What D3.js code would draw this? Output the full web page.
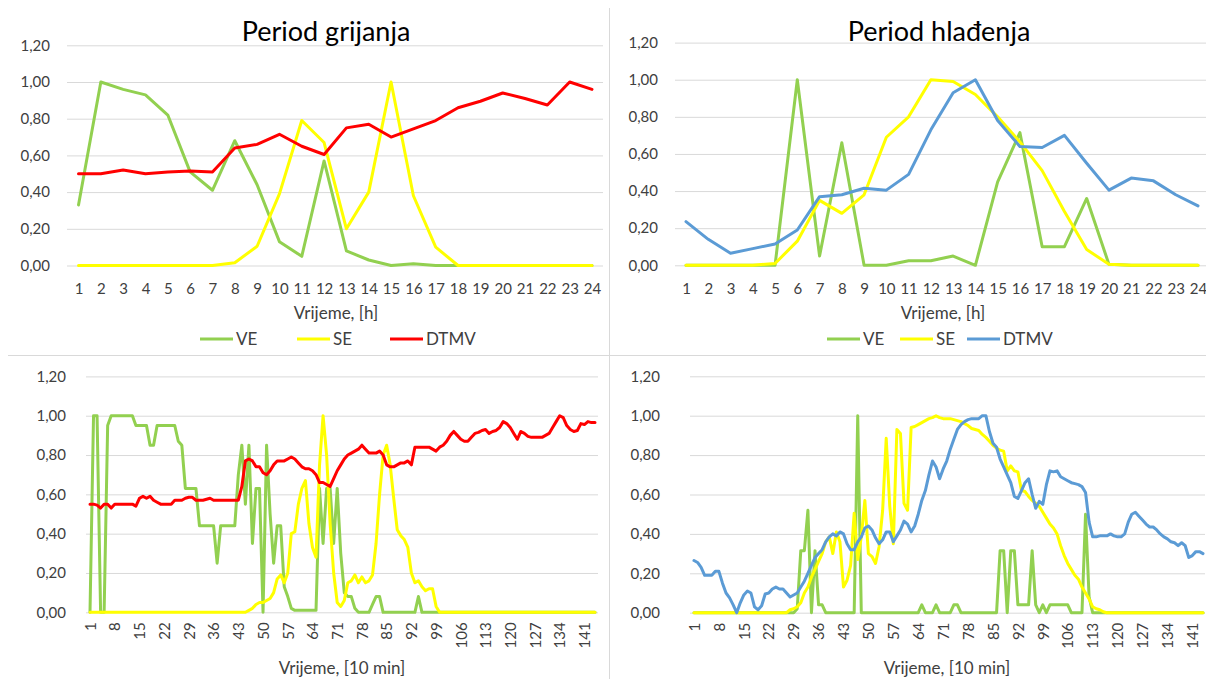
<!DOCTYPE html>
<html lang="hr">
<head>
<meta charset="UTF-8">
<title>Period grijanja / Period hlađenja</title>
<script src="https://cdn.jsdelivr.net/npm/d3@7"></script>
<style>
    body { margin: 0; background: #fff; }
</style>
</head>
<body>
<svg id="chart" width="1206" height="679"></svg>
<script>
// ---- data ----
var hours = [1,2,3,4,5,6,7,8,9,10,11,12,13,14,15,16,17,18,19,20,21,22,23,24];
var yTicks = [0, 0.2, 0.4, 0.6, 0.8, 1.0, 1.2];
var tenMinTicks = [1,8,15,22,29,36,43,50,57,64,71,78,85,92,99,106,113,120,127,134,141];
var seriesNames = ["VE", "SE", "DTMV"];

// Period grijanja, hourly
var heatVE   = [0.33,1.00,0.96,0.93,0.82,0.51,0.41,0.68,0.44,0.13,0.05,0.57,0.08,0.03,0.00,0.01,0.00,0,0,0,0,0,0,0];
var heatSE   = [0,0,0,0,0,0,0,0.015,0.105,0.39,0.79,0.67,0.20,0.40,1.00,0.38,0.10,0,0,0,0,0,0,0];
var heatDTMV = [0.50,0.50,0.52,0.50,0.51,0.515,0.51,0.64,0.66,0.715,0.65,0.605,0.75,0.77,0.70,0.745,0.79,0.86,0.895,0.94,0.91,0.875,1.00,0.96];

// Period hlađenja, hourly
var coolVE   = [0,0,0,0,0,1.00,0.05,0.66,0,0,0.025,0.025,0.05,0,0.45,0.715,0.10,0.10,0.36,0.005,0,0,0,0];
var coolSE   = [0,0,0,0,0.01,0.13,0.35,0.28,0.38,0.69,0.80,1.00,0.99,0.92,0.80,0.665,0.51,0.29,0.085,0.005,0,0,0,0];
var coolDTMV = [0.235,0.14,0.065,0.09,0.115,0.19,0.37,0.38,0.415,0.405,0.49,0.73,0.93,1.00,0.78,0.64,0.635,0.70,0.55,0.405,0.47,0.455,0.38,0.32];

// Period grijanja, 10 min
var heat10VE = [
    0,1,1,0,0,0.95,1,1,1,1,
    1,1,1,0.95,0.95,0.95,0.95,0.85,0.85,0.95,
    0.95,0.95,0.95,0.95,0.95,0.87,0.85,0.63,0.63,0.63,
    0.63,0.44,0.44,0.44,0.44,0.44,0.25,0.44,0.44,0.44,
    0.44,0.44,0.70,0.85,0.55,0.85,0.35,0.63,0.63,0,
    0.85,0.5,0.25,0.44,0.44,0.13,0.08,0.02,0.01,0.01,
    0.01,0.01,0.01,0.01,0.01,0.63,0.35,0.63,0.63,0.35,
    0.63,0.3,0.1,0.08,0.08,0.02,0,0,0,0,
    0.04,0.08,0.08,0,0,0,0,0,0,0,
    0,0,0,0.08,0,0,0,0,0,0,
    0,0,0,0,0,0,0,0,0,0,
    0,0,0,0,0,0,0,0,0,0,
    0,0,0,0,0,0,0,0,0,0,
    0,0,0,0,0,0,0,0,0,0,
    0,0,0,0
];
var heat10SE = [
    0,0,0,0,0,0,0,0,0,0,
    0,0,0,0,0,0,0,0,0,0,
    0,0,0,0,0,0,0,0,0,0,
    0,0,0,0,0,0,0,0,0,0,
    0,0,0,0,0,0.01,0.02,0.04,0.05,0.05,
    0.06,0.07,0.1,0.17,0.19,0.15,0.2,0.4,0.41,0.55,
    0.63,0.67,0.45,0.33,0.28,0.75,1.0,0.8,0.45,0.2,
    0.05,0.03,0.06,0.15,0.16,0.19,0.15,0.18,0.15,0.16,
    0.19,0.35,0.6,0.8,0.85,0.75,0.58,0.42,0.39,0.37,
    0.33,0.2,0.15,0.16,0.13,0.11,0.12,0.12,0.03,0,
    0,0,0,0,0,0,0,0,0,0,
    0,0,0,0,0,0,0,0,0,0,
    0,0,0,0,0,0,0,0,0,0,
    0,0,0,0,0,0,0,0,0,0,
    0,0,0,0
];
var heat10DTMV = [
    0.55,0.55,0.545,0.53,0.55,0.55,0.53,0.55,0.55,0.55,
    0.55,0.55,0.55,0.54,0.58,0.59,0.58,0.59,0.57,0.56,
    0.55,0.55,0.55,0.55,0.57,0.57,0.57,0.58,0.585,0.585,
    0.57,0.57,0.57,0.575,0.58,0.57,0.57,0.57,0.57,0.57,
    0.57,0.57,0.57,0.64,0.77,0.78,0.77,0.74,0.74,0.71,
    0.70,0.72,0.75,0.77,0.77,0.77,0.78,0.79,0.78,0.76,
    0.74,0.73,0.73,0.72,0.70,0.66,0.66,0.65,0.64,0.68,
    0.72,0.75,0.78,0.80,0.81,0.82,0.83,0.85,0.83,0.81,
    0.81,0.81,0.82,0.80,0.75,0.74,0.74,0.75,0.76,0.76,
    0.77,0.75,0.84,0.84,0.84,0.84,0.84,0.83,0.82,0.84,
    0.85,0.87,0.90,0.92,0.90,0.88,0.87,0.87,0.89,0.91,
    0.915,0.925,0.93,0.91,0.92,0.925,0.94,0.97,0.96,0.94,
    0.91,0.88,0.92,0.91,0.895,0.89,0.89,0.89,0.89,0.90,
    0.91,0.94,0.97,1.0,0.99,0.95,0.93,0.92,0.925,0.96,
    0.955,0.97,0.965,0.965
];

// Period hlađenja, 10 min
var cool10VE = [
    0,0,0,0,0,0,0,0,0,0,
    0,0,0,0,0,0,0,0,0,0,
    0,0,0,0,0,0,0,0,0,0.02,
    0.315,0.315,0.52,0,0.315,0.04,0.04,0,0,0,
    0,0,0,0,0,0,1.0,0,0,0,
    0,0,0,0,0,0,0,0,0,0,
    0,0,0,0,0.04,0,0,0,0.04,0,
    0,0,0,0.04,0.04,0,0,0,0,0,
    0,0,0,0,0,0,0.315,0.315,0,0.315,
    0.315,0.04,0.04,0.04,0.04,0.315,0.04,0,0.04,0,
    0.04,0.04,0.04,0.04,0.04,0.04,0,0,0,0,
    0.5,0.08,0,0,0,0,0,0,0,0,
    0,0,0,0,0,0,0,0,0,0,
    0,0,0,0,0,0,0,0,0,0,
    0,0,0,0
];
var cool10SE = [
    0,0,0,0,0,0,0,0,0,0,
    0,0,0,0,0,0,0,0,0,0,
    0,0,0,0,0,0,0,0.015,0.02,0.03,
    0.05,0.10,0.13,0.18,0.22,0.26,0.30,0.36,0.385,0.30,
    0.41,0.36,0.13,0.165,0.24,0.505,0.27,0.385,0.57,0.30,
    0.285,0.25,0.335,0.52,0.885,0.54,0.35,0.93,0.91,0.555,
    0.52,0.94,0.945,0.955,0.965,0.975,0.985,0.99,1.0,0.99,
    0.985,0.985,0.985,0.98,0.975,0.97,0.96,0.95,0.935,0.93,
    0.925,0.905,0.89,0.87,0.85,0.835,0.825,0.82,0.72,0.745,
    0.72,0.715,0.62,0.615,0.59,0.57,0.555,0.54,0.51,0.48,
    0.45,0.43,0.40,0.34,0.29,0.25,0.22,0.19,0.17,0.13,
    0.10,0.07,0.03,0.02,0.015,0.005,0,0,0,0,
    0,0,0,0,0,0,0,0,0,0,
    0,0,0,0,0,0,0,0,0,0,
    0,0,0,0
];
var cool10DTMV = [
    0.265,0.255,0.23,0.19,0.19,0.19,0.21,0.21,0.15,0.10,
    0.075,0.04,0.0,0.05,0.09,0.11,0.10,0.03,0.015,0.035,
    0.095,0.10,0.12,0.13,0.12,0.12,0.10,0.08,0.09,0.10,
    0.13,0.16,0.20,0.24,0.28,0.30,0.32,0.36,0.385,0.40,
    0.39,0.41,0.40,0.35,0.32,0.32,0.36,0.385,0.43,0.44,
    0.42,0.38,0.35,0.37,0.41,0.41,0.36,0.39,0.42,0.465,
    0.45,0.41,0.44,0.50,0.57,0.62,0.70,0.77,0.74,0.68,
    0.73,0.77,0.83,0.88,0.93,0.955,0.97,0.98,0.985,0.985,
    0.985,1.0,1.0,0.92,0.86,0.84,0.78,0.74,0.70,0.66,
    0.59,0.58,0.62,0.66,0.68,0.60,0.53,0.565,0.55,0.65,
    0.72,0.715,0.72,0.69,0.68,0.67,0.66,0.655,0.65,0.64,
    0.61,0.46,0.385,0.385,0.39,0.39,0.39,0.40,0.39,0.385,
    0.385,0.40,0.46,0.50,0.51,0.49,0.47,0.45,0.435,0.435,
    0.42,0.40,0.385,0.375,0.36,0.355,0.34,0.355,0.34,0.28,
    0.29,0.31,0.31,0.30
];

var tenMin = d3.range(1, heat10DTMV.length + 1);

var colors = { VE: "#92d050", SE: "#ffff00", DTMV_heat: "#ff0000", DTMV_cool: "#5b9bd5" };
var fontFam = "Lato, 'Open Sans', sans-serif";
var textColor = "#404040";

var svg = d3.select("#chart");
var fmt = function(d) { return d3.format(".2f")(d).replace(".", ","); };

// panel separators
svg.append("line").attr("x1", 609.5).attr("x2", 609.5).attr("y1", 8).attr("y2", 679)
    .attr("stroke", "#d9d9d9");
svg.append("line").attr("x1", 8).attr("x2", 1206).attr("y1", 355.5).attr("y2", 355.5)
    .attr("stroke", "#d9d9d9");

function drawPanel(o) {
    var g = svg.append("g");
    var x = d3.scalePoint().domain(o.cats).range(o.xRange);
    var y = d3.scaleLinear().domain([0, 1.2]).range([o.y0, o.y12]);

    // gridlines + y labels
    g.append("g")
        .attr("transform", "translate(" + o.grid[0] + ",0)")
        .call(d3.axisLeft(y).tickValues(yTicks).tickFormat(fmt)
            .tickSize(-(o.grid[1] - o.grid[0])).tickPadding(o.yPad))
        .call(function(s) {
            s.select(".domain").remove();
            s.selectAll("line").attr("stroke", "#d9d9d9");
            s.attr("font-family", fontFam).attr("font-size", 15);
            s.selectAll("text").attr("fill", textColor);
        });

    // x labels
    var xa = g.append("g")
        .attr("transform", "translate(0," + o.y0 + ")")
        .call(d3.axisBottom(x).tickValues(o.ticks).tickSize(0).tickPadding(o.xPad))
        .call(function(s) {
            s.select(".domain").remove();
            s.attr("font-family", fontFam).attr("font-size", 15);
            s.selectAll("text").attr("fill", textColor);
        });
    if (o.rotate) {
        xa.selectAll("text")
            .attr("transform", "rotate(-90)")
            .attr("x", -o.xPad).attr("y", 0).attr("dy", "0.35em")
            .style("text-anchor", "end");
    }

    // series
    var line = d3.line()
        .x(function(d, i) { return x(o.cats[i]); })
        .y(function(d) { return y(d); });
    o.series.forEach(function(s) {
        g.append("path").datum(s.values)
            .attr("fill", "none").attr("stroke", s.color)
            .attr("stroke-width", 3).attr("stroke-linejoin", "round")
            .attr("stroke-linecap", "round")
            .attr("d", line);
    });

    // axis title
    g.append("text").attr("x", o.xTitle[0]).attr("y", o.xTitle[1])
        .attr("text-anchor", "middle").attr("font-family", fontFam)
        .attr("font-size", 17).attr("fill", textColor).text(o.xLabel);

    if (o.title) {
        g.append("text").attr("x", o.title[0]).attr("y", o.title[1])
            .attr("text-anchor", "middle").attr("font-family", fontFam)
            .attr("font-size", 27).attr("fill", "#000").text(o.title[2]);
    }

    if (o.legend) {
        o.legend.forEach(function(l, i) {
            g.append("line").attr("x1", l[0]).attr("x2", l[0] + 33)
                .attr("y1", o.legendY).attr("y2", o.legendY)
                .attr("stroke", o.series[i].color).attr("stroke-width", 3);
            g.append("text").attr("x", l[0] + 36).attr("y", o.legendY + 6)
                .attr("font-family", fontFam).attr("font-size", 17)
                .attr("fill", textColor).text(o.series[i].name);
        });
    }
}

drawPanel({
    cats: hours, xRange: [78.5, 592], grid: [67, 603], y0: 265.5, y12: 45.3,
    yPad: 17, xPad: 18, ticks: hours, rotate: false,
    series: [
        { name: seriesNames[0], color: colors.VE, values: heatVE },
        { name: seriesNames[1], color: colors.SE, values: heatSE },
        { name: seriesNames[2], color: colors.DTMV_heat, values: heatDTMV }
    ],
    xLabel: "Vrijeme, [h]", xTitle: [336, 319],
    title: [326, 41, "Period grijanja"],
    legend: [[200], [297], [390]], legendY: 339
});

drawPanel({
    cats: hours, xRange: [686, 1198], grid: [675, 1206], y0: 265.3, y12: 42.6,
    yPad: 17, xPad: 18, ticks: hours, rotate: false,
    series: [
        { name: seriesNames[0], color: colors.VE, values: coolVE },
        { name: seriesNames[1], color: colors.SE, values: coolSE },
        { name: seriesNames[2], color: colors.DTMV_cool, values: coolDTMV }
    ],
    xLabel: "Vrijeme, [h]", xTitle: [943, 319],
    title: [939, 41, "Period hlađenja"],
    legend: [[827], [900], [967]], legendY: 339
});

drawPanel({
    cats: tenMin, xRange: [90, 595], grid: [86, 598], y0: 612.3, y12: 376.4,
    yPad: 20, xPad: 10, ticks: tenMinTicks, rotate: true,
    series: [
        { name: seriesNames[0], color: colors.VE, values: heat10VE },
        { name: seriesNames[1], color: colors.SE, values: heat10SE },
        { name: seriesNames[2], color: colors.DTMV_heat, values: heat10DTMV }
    ],
    xLabel: "Vrijeme, [10 min]", xTitle: [342, 674]
});

drawPanel({
    cats: tenMin, xRange: [694, 1203], grid: [690, 1205], y0: 612.7, y12: 376.3,
    yPad: 30, xPad: 10, ticks: tenMinTicks, rotate: true,
    series: [
        { name: seriesNames[0], color: colors.VE, values: cool10VE },
        { name: seriesNames[1], color: colors.SE, values: cool10SE },
        { name: seriesNames[2], color: colors.DTMV_cool, values: cool10DTMV }
    ],
    xLabel: "Vrijeme, [10 min]", xTitle: [947, 674]
});
</script>
</body>
</html>
